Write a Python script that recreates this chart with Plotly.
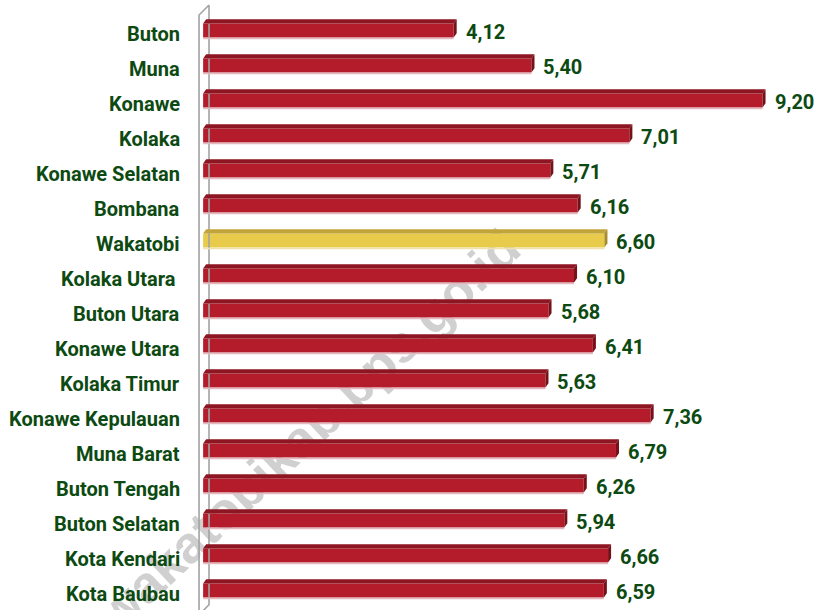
import math
import plotly.graph_objects as go

# Kabupaten/Kota names and their values
regions = [
    "Buton", "Muna", "Konawe", "Kolaka", "Konawe Selatan", "Bombana",
    "Wakatobi", "Kolaka Utara ", "Buton Utara", "Konawe Utara",
    "Kolaka Timur", "Konawe Kepulauan", "Muna Barat", "Buton Tengah",
    "Buton Selatan", "Kota Kendari", "Kota Baubau",
]
values = [4.12, 5.40, 9.20, 7.01, 5.71, 6.16, 6.60, 6.10, 5.68, 6.41,
          5.63, 7.36, 6.79, 6.26, 5.94, 6.66, 6.59]
highlight = "Wakatobi"

W, H = 818, 610
ML, MR, MT, MB = 194, 4, 2, 0
PW, PH = W - ML - MR, H - MT - MB
X_RANGE = [-0.15, 10.047]
Y_RANGE = [16.56, -0.814]

# 3D bar geometry (data units)
BAR_H = 0.40
DX = 0.05
DY = 0.12

RED = dict(front="#b41c2c", top="#8e1622", side="#761019", edge="#e2b9bd")
GOLD = dict(front="#e8cb4b", top="#c2a53a", side="#a88c2b", edge="#efe2b0")
LABEL = "#0c4a12"
FONT = "Roboto"

fig = go.Figure()

# wall of the value axis
n = len(regions)
wall_x = [0.097, 0.097, -0.067, -0.067, 0.097]
wall_y = [-0.729, n - 0.59, n - 0.3, -0.443, -0.729]
fig.add_trace(go.Scatter(x=wall_x, y=wall_y, mode="lines",
                         line=dict(color="#a3a3a3", width=1.6),
                         hoverinfo="skip", showlegend=False))


def faces(idx):
    top_x, top_y, side_x, side_y, ex, ey = [], [], [], [], [], []
    for i in idx:
        v = values[i]
        y0 = i - BAR_H / 2
        y1 = i + BAR_H / 2
        top_x += [0, v, v + DX, DX, 0, None]
        top_y += [y0, y0, y0 - DY, y0 - DY, y0, None]
        side_x += [v, v + DX, v + DX, v, v, None]
        side_y += [y0, y0 - DY, y1 - DY, y1, y0, None]
        ex += [0, v, None]
        ey += [y1 + 0.03, y1 + 0.03, None]
    return top_x, top_y, side_x, side_y, ex, ey


groups = [
    ([i for i, r in enumerate(regions) if r != highlight], RED),
    ([i for i, r in enumerate(regions) if r == highlight], GOLD),
]
for idx, pal in groups:
    tx, ty, sx, sy, ex, ey = faces(idx)
    fig.add_trace(go.Scatter(x=ex, y=ey, mode="lines",
                             line=dict(color=pal["edge"], width=1.5),
                             hoverinfo="skip", showlegend=False))
    fig.add_trace(go.Scatter(x=tx, y=ty, mode="lines", fill="toself",
                             fillcolor=pal["top"], line=dict(width=0),
                             hoverinfo="skip", showlegend=False))
    fig.add_trace(go.Scatter(x=sx, y=sy, mode="lines", fill="toself",
                             fillcolor=pal["side"], line=dict(width=0),
                             hoverinfo="skip", showlegend=False))
    fig.add_trace(go.Bar(x=[values[i] for i in idx], y=idx, orientation="h",
                         width=BAR_H, marker=dict(color=pal["front"],
                                                  line=dict(width=0)),
                         hoverinfo="skip", showlegend=False))

# value labels
for i, v in enumerate(values):
    fig.add_annotation(x=v + DX, y=i, xref="x", yref="y",
                       text=f"{v:.2f}".replace(".", ","), showarrow=False,
                       xanchor="left", yanchor="middle", xshift=7, yshift=-2,
                       font=dict(family=FONT, size=20, color=LABEL,
                                 weight="bold"))

# category labels
for i, r in enumerate(regions):
    fig.add_annotation(x=0, y=i, xref="paper", yref="y", text=r,
                       showarrow=False, xanchor="right", yanchor="middle",
                       xshift=-12, yshift=-4,
                       font=dict(family=FONT, size=20, color=LABEL,
                                 weight="bold"))

# watermark behind the bars, along a diagonal through the plot
cx, cy, ang, half = 305, 427, math.radians(43.3), 300
px0, py0 = cx - half * math.cos(ang), cy + half * math.sin(ang)
px1, py1 = cx + half * math.cos(ang), cy - half * math.sin(ang)
fig.add_shape(type="line", xref="paper", yref="paper",
              x0=(px0 - ML) / PW, y0=1 - (py0 - MT) / PH,
              x1=(px1 - ML) / PW, y1=1 - (py1 - MT) / PH,
              layer="below", line=dict(color="rgba(0,0,0,0)", width=0),
              label=dict(text="wakatobikab.bps.go.id", textposition="middle",
                         yanchor="middle",
                         font=dict(family="Liberation Sans", size=52,
                                   color="#d0d0d0", weight="bold")))

fig.update_layout(
    width=W, height=H,
    margin=dict(l=ML, r=MR, t=MT, b=MB),
    paper_bgcolor="white", plot_bgcolor="white",
    barmode="overlay",
    xaxis=dict(range=X_RANGE, visible=False, fixedrange=True),
    yaxis=dict(range=Y_RANGE, visible=False, fixedrange=True),
)

fig.write_html("out.html")
